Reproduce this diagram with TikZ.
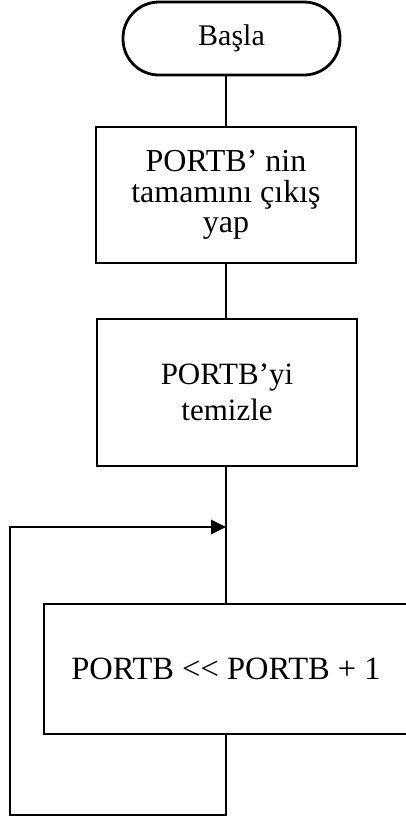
\documentclass[tikz,border=0pt]{standalone}
\usepackage{fontspec}
\setmainfont{Liberation Serif}
\usetikzlibrary{arrows.meta}
\begin{document}
\begin{tikzpicture}[x=1pt,y=1pt,
  line width=2.8pt,
  boxst/.style={draw,rectangle,align=center,inner sep=0pt},
  termst/.style={draw,rectangle,rounded corners=36pt,align=center,inner sep=0pt,minimum width=217pt,minimum height=73pt},
  flow/.style={line width=2.8pt},
  arr/.style={-{Triangle[length=15pt,width=14pt]}}]
\useasboundingbox (0,0) rectangle (405,-820);
\node[termst,font=\fontsize{30}{32}\selectfont] (start) at (231.5,-38.5) {\raisebox{-3pt}{Başla}};
\node[boxst,minimum width=260pt,minimum height=136pt,font=\fontsize{32}{30.5}\selectfont] (b2) at (226,-195) {PORTB’ nin\\tamamını çıkış\\yap};
\node[boxst,minimum width=260pt,minimum height=147pt,font=\fontsize{31}{36}\selectfont] (b3) at (227,-392.5) {PORTB’yi\\temizle};
\node[boxst,minimum width=364pt,minimum height=130pt,font=\fontsize{32.5}{34}\selectfont] (b4) at (226,-669) {PORTB <{}< PORTB + 1};
\coordinate (j) at (226,-527);
\coordinate (bl) at (226,-815);
\coordinate (cl) at (10,-815);
\coordinate (tl) at (10,-527);
\draw[flow] (b2.north -| j) -- (start.south -| j);
\draw[flow] (b2.south -| j) -- (b3.north -| j);
\draw[flow] (b3.south -| j) -- (b4.north -| j);
\draw[flow,arr] (b4.south -| j) -- (bl) -- (cl) -- (tl) -- (j);
\end{tikzpicture}
\end{document}
